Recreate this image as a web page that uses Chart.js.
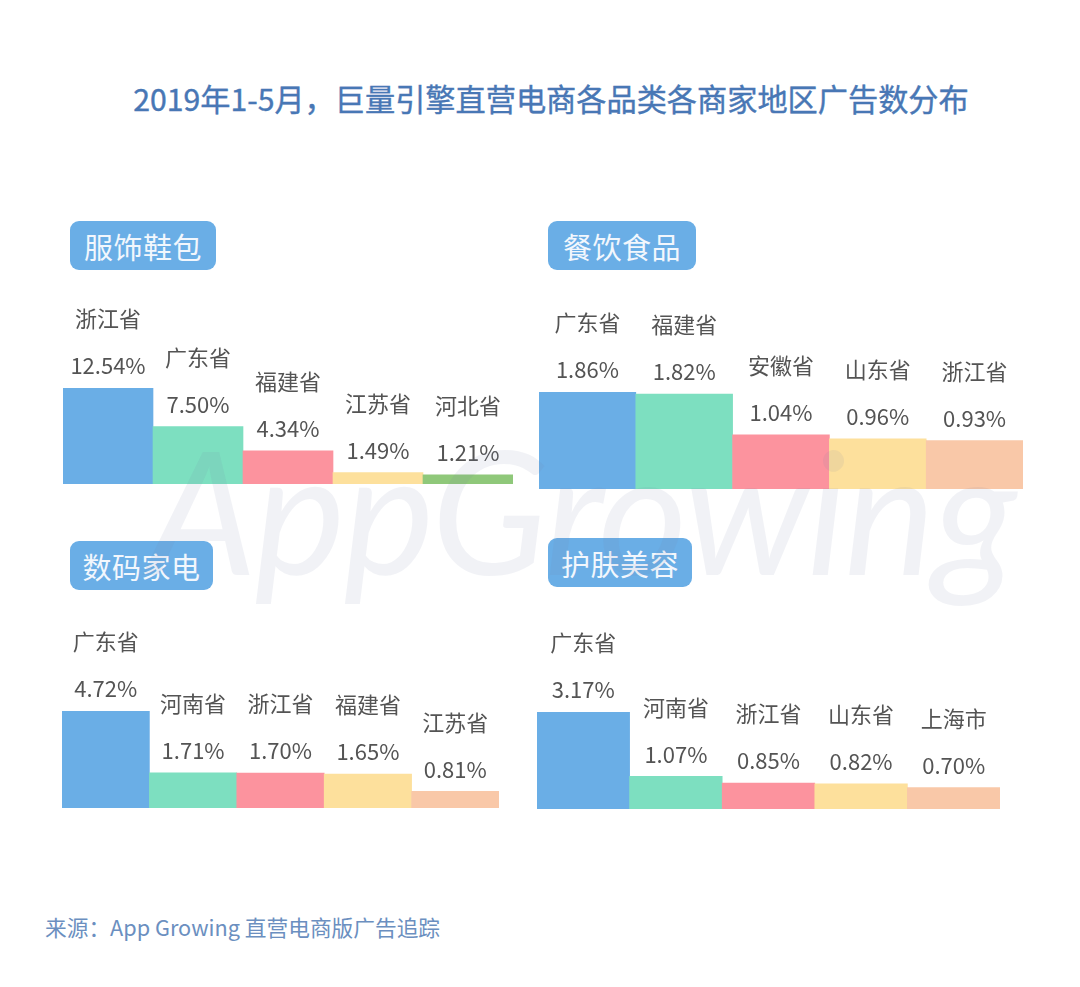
<!DOCTYPE html>
<html>
<head>
<meta charset="utf-8">
<script src="https://cdn.jsdelivr.net/npm/chart.js@4.4.1/dist/chart.umd.min.js"></script>
<style>
  html, body { margin: 0; padding: 0; background: #ffffff; }
  body { width: 1080px; height: 987px; position: relative; overflow: hidden;
         font-family: "Noto Sans CJK SC", "Noto Sans", sans-serif; }
  .title { position: absolute; left: 0; width: 1102px; top: 76px; text-align: center;
           font-size: 30.2px; font-weight: 400; color: #4877b5; white-space: nowrap;
           -webkit-text-stroke: 0.4px #4877b5; }
  .badge { position: absolute; height: 49px; background: #6aaee6; border-radius: 9px;
           color: #f2f7fd; font-size: 29px; display: flex; align-items: center;
           justify-content: center; letter-spacing: 0.5px; }
  .box { position: absolute; }
  .source { position: absolute; left: 45px; top: 911px; font-size: 21.7px; color: #6b8fc0; white-space: nowrap; }
  .wm { position: absolute; left: 148px; top: 405px; font-size: 172px; font-style: italic;
        font-family: "Lato", "DejaVu Sans", sans-serif; font-weight: 400;
        color: rgba(120,132,165,0.10); letter-spacing: -2px; pointer-events: none; white-space: nowrap; }
</style>
</head>
<body>
<div class="title">2019年1-5月，巨量引擎直营电商各品类各商家地区广告数分布</div>

<div class="badge" style="left:70px;top:221px;width:146px;">服饰鞋包</div>
<div class="badge" style="left:548px;top:221px;width:148px;">餐饮食品</div>
<div class="badge" style="left:70px;top:541px;width:143px;">数码家电</div>
<div class="badge" style="left:548px;top:538px;width:144px;">护肤美容</div>

<div class="box" style="left:63px;top:284px;width:450px;height:200px;"><canvas id="c1"></canvas></div>
<div class="box" style="left:539px;top:289px;width:484px;height:200px;"><canvas id="c2"></canvas></div>
<div class="box" style="left:62px;top:608px;width:437px;height:200px;"><canvas id="c3"></canvas></div>
<div class="box" style="left:537px;top:609px;width:463px;height:200px;"><canvas id="c4"></canvas></div>

<div class="wm">AppGrowing</div>

<div class="source">来源：App Growing 直营电商版广告追踪</div>

<script>
// ---- data ----
const apparelRegions = ["浙江省", "广东省", "福建省", "江苏省", "河北省"];
const apparelValues  = [12.54, 7.50, 4.34, 1.49, 1.21];

const foodRegions = ["广东省", "福建省", "安徽省", "山东省", "浙江省"];
const foodValues  = [1.86, 1.82, 1.04, 0.96, 0.93];

const digitalRegions = ["广东省", "河南省", "浙江省", "福建省", "江苏省"];
const digitalValues  = [4.72, 1.71, 1.70, 1.65, 0.81];

const beautyRegions = ["广东省", "河南省", "浙江省", "山东省", "上海市"];
const beautyValues  = [3.17, 1.07, 0.85, 0.82, 0.70];

// ---- styles ----
const paletteA = ["#6aaee6", "#7ddfc0", "#fc939e", "#fde09c", "#8fc87a"];
const paletteB = ["#6aaee6", "#7ddfc0", "#fc939e", "#fde09c", "#f9c8a8"];

const labelPlugin = {
  id: "barLabels",
  afterDatasetsDraw(chart) {
    const ctx = chart.ctx;
    const meta = chart.getDatasetMeta(0);
    const ds = chart.data.datasets[0];
    ctx.save();
    ctx.fillStyle = "#545454";
    ctx.textAlign = "center";
    ctx.textBaseline = "middle";
    ctx.font = '22px "Noto Sans CJK SC", "Noto Sans", sans-serif';
    meta.data.forEach((el, i) => {
      const v = ds.data[i];
      ctx.fillText(v.toFixed(2) + "%", el.x, el.y - 22);
      ctx.fillText(chart.data.labels[i], el.x, el.y - 69);
    });
    ctx.restore();
  }
};

function makeChart(id, labels, values, colors, maxBarPx) {
  const canvas = document.getElementById(id);
  return new Chart(canvas, {
    type: "bar",
    data: {
      labels: labels,
      datasets: [{
        data: values,
        backgroundColor: colors,
        borderWidth: 0,
        categoryPercentage: 1.0,
        barPercentage: 1.0
      }]
    },
    options: {
      responsive: true,
      maintainAspectRatio: false,
      animation: false,
      devicePixelRatio: 1,
      layout: { padding: { top: 200 - maxBarPx, bottom: 0, left: 0, right: 0 } },
      plugins: { legend: { display: false }, tooltip: { enabled: false }, title: { display: false } },
      scales: {
        x: { display: false, grid: { display: false } },
        y: { display: false, min: 0, max: Math.max(...values), grid: { display: false } }
      }
    },
    plugins: [labelPlugin]
  });
}

makeChart("c1", apparelRegions, apparelValues, paletteA, 96);
makeChart("c2", foodRegions, foodValues, paletteB, 97);
makeChart("c3", digitalRegions, digitalValues, paletteB, 97);
makeChart("c4", beautyRegions, beautyValues, paletteB, 97);
</script>
</body>
</html>
